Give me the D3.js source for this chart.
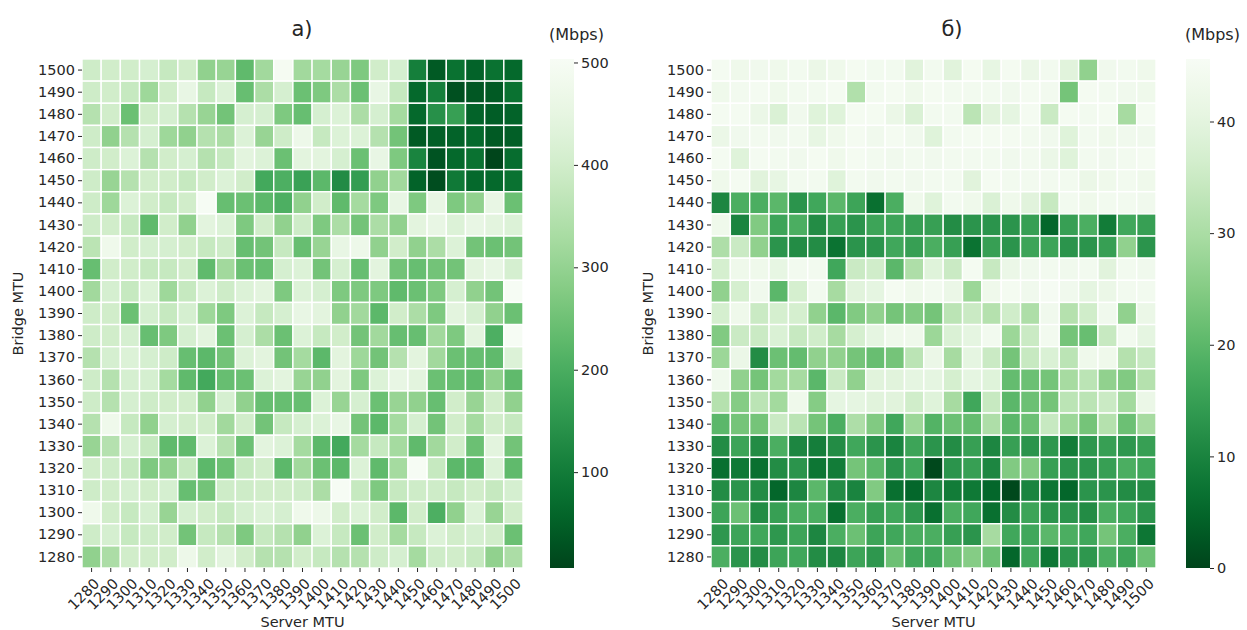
<!DOCTYPE html>
<html>
<head>
<meta charset="utf-8">
<script src="https://cdn.jsdelivr.net/npm/d3@7"></script>
<style>
  body { margin: 0; background: #fff; }
  text { font-family: "DejaVu Sans", sans-serif; fill: #262626; }
</style>
</head>
<body>
<svg id="chart" width="1247" height="630"></svg>
<script>
// server MTU (columns) and bridge MTU (rows, top to bottom)
var serverMtu = [1280,1290,1300,1310,1320,1330,1340,1350,1360,1370,1380,1390,1400,1410,1420,1430,1440,1450,1460,1470,1480,1490,1500];
var bridgeMtu = serverMtu.slice().reverse();

// a) throughput, Mbps, rows 1500 -> 1280
var throughputA = [
  [395,400,400,410,380,400,295,305,230,320,495,320,325,305,270,400,410,105,40,80,55,80,65],
  [395,400,380,315,400,455,380,425,240,335,410,245,270,335,245,455,380,65,105,25,35,40,80],
  [350,400,245,400,410,350,305,255,410,410,270,240,410,425,335,410,325,65,140,170,55,45,55],
  [395,295,350,410,315,295,350,335,425,305,395,470,380,425,425,350,255,40,48,55,65,40,48],
  [395,400,425,350,400,410,350,380,440,425,245,440,440,410,245,455,270,115,30,65,80,8,72],
  [395,305,350,400,400,380,400,425,400,190,205,175,225,130,165,295,320,55,20,95,65,65,80],
  [395,315,425,400,380,400,500,240,245,225,205,295,400,230,325,270,455,270,455,270,295,455,245],
  [395,400,380,230,400,295,440,425,270,400,295,395,270,335,255,335,295,440,455,425,455,440,425],
  [360,475,400,410,410,400,380,395,240,255,380,240,305,455,470,295,400,295,335,425,255,245,255],
  [240,400,400,380,380,400,230,320,245,240,410,425,255,410,240,440,255,240,255,255,440,455,410],
  [320,410,380,425,315,380,425,395,425,440,270,425,410,270,270,270,230,245,270,410,295,255,500],
  [395,400,245,410,380,410,315,270,425,380,410,455,440,295,320,225,400,335,270,440,410,295,245],
  [395,400,410,240,270,410,440,245,410,335,245,425,380,400,255,320,240,240,320,270,440,205,500],
  [350,410,425,410,395,240,225,255,425,440,255,325,225,440,315,255,350,440,320,245,240,230,425],
  [395,350,410,410,325,230,190,240,245,425,440,305,295,440,270,425,455,440,245,240,230,295,230],
  [395,350,410,395,400,400,295,410,295,240,240,240,425,305,410,245,305,295,240,400,305,400,295],
  [350,475,380,295,410,400,400,320,400,255,380,410,425,455,255,225,325,410,255,400,325,400,380],
  [305,350,410,380,230,230,425,350,245,440,425,325,225,190,325,380,325,230,320,400,245,440,255],
  [400,395,380,270,295,380,225,245,380,400,225,320,245,225,425,230,325,500,380,225,225,425,230],
  [395,400,410,400,410,240,255,395,395,400,400,395,335,500,380,270,380,395,395,380,400,380,410],
  [475,400,380,410,305,410,400,380,410,425,410,475,470,400,425,400,225,400,205,295,425,305,400],
  [395,410,380,395,400,255,380,350,270,380,350,295,425,380,245,400,325,380,425,400,410,400,245],
  [295,335,400,400,400,470,400,440,400,350,350,400,380,350,350,395,410,325,395,400,380,295,335]
];

// б) throughput, Mbps, rows 1500 -> 1280
var throughputB = [
  [44.5,43,43.5,43,44,42,43,44.5,44,44,39.5,44,39.5,44.5,41,44.5,42,44,39.5,26.5,43.5,44,43],
  [43,44,44.5,43,44,44,44.5,31,44,44.5,43,44.5,44,44,44,43.5,44.5,44,23,44.5,44,43.5,43],
  [44.5,44.5,42,38,43.5,39,39,44.5,44.5,42,38,44,44,32.5,39.5,40.5,44.5,35,44.5,44,44.5,29.5,44.5],
  [42,43.5,44,43.5,44,41,43,44.5,43.5,44.5,43.5,39,44,44.5,44.5,44.5,44,43.5,39,44,43,43.5,43.5],
  [44.5,39,44.5,44,43.5,44.5,43,44.5,44,43.5,44,43.5,44,44,44,43.5,44,42,39,44,43.5,44,44.5],
  [43,44.5,39.5,41,44,44,39,44,43.5,44,43.5,44,44,39.5,44.5,44,44,44,44,42,43,44,43],
  [10.5,18,18,20,13,16.5,20,16,6.5,18,43,39,44,43,38,43,39.5,34.5,44,43,44,44,43.5],
  [43,10,24.5,16,18,11.5,15,13,16,16,15,15,11.5,13,13,13,15,5,15,18,8.5,16.5,15],
  [30.5,35,26.5,13,11.5,11.5,7,13,13,16.5,15,18,15,7,15,13,16,16,13,13,15,26.5,13],
  [37,43,43,41,44,44,16.5,35,36,20,30.5,39,35,44.5,34.5,42,43.5,44,43.5,44,39.5,44,43.5],
  [26.5,37,43.5,20,37,44,29.5,39.5,40.5,44.5,43,44,42,28,43,44.5,43.5,45,43.5,40.5,42,44,44],
  [37,43,35,37,37,26.5,20,24.5,26.5,23,24.5,23,32.5,35,31.5,36,30.5,43.5,31.5,36,43.5,26.5,42],
  [24.5,35,35,38,34.5,36,29.5,37,40.5,43,43,28,38,40.5,44,28,35,44,23,21.5,34.5,44,40.5],
  [28,42,11.5,22,21,26.5,26.5,23,21.5,23,32.5,42,29.5,40.5,35,23,34.5,38,32.5,43,43,31.5,34.5],
  [43.5,26.5,23,29,29.5,20,35,26.5,39.5,39.5,40.5,40.5,37,40.5,39,21,22,23,29.5,32.5,26.5,24.5,31.5],
  [31.5,25,32.5,29,43,25,40.5,40.5,39.5,39.5,36,39,29.5,16.5,34.5,20,22,23,32.5,32.5,35,29,42],
  [20,23,23,35,32.5,23,18,30.5,24.5,16.5,28,19,22,21,30.5,20,22,34.5,28,23,31.5,22,29.5],
  [11.5,16,11.5,18,10.5,9,11.5,16.5,13,10,16,13,11.5,15,10.5,15,13,13.5,8.5,13.5,15,13.5,15],
  [6.5,8,6.5,11.5,13,7.5,8.5,23,20,13,16.5,0.5,13,15,10.5,24.5,24.5,15,13,13,15,18,16.5],
  [11.5,13,11.5,5,10.5,20,11.5,10,24.5,6.5,5,10.5,8.5,8,5,0.5,10,7.5,5,13,13,11.5,11.5],
  [16,22,11.5,15,18,18,6.5,18,15,16.5,13.5,6.5,18,16.5,6.5,11.5,16,13,13,11.5,18,16.5,13],
  [13.5,16,16.5,13.5,16,10.5,18,22,16,16.5,18,18,15,13,29.5,16.5,16.5,20,18,16.5,23,18,7.5],
  [18,13,11.5,16,16.5,11.5,10.5,16,13.5,22,16.5,16.5,22,25,22,5,16.5,7.5,13,13.5,18,16,22]
];

var colorTicksA = [100,200,300,400,500];
var colorTicksB = [0,10,20,30,40];
var titles = ["a)", "б)"];

var svg = d3.select("#chart");
var gridTop = 59, gridBottom = 568;

var panels = [
  {title: titles[0], data: throughputA, domain: [6.4, 503.4], ticks: colorTicksA, x0: 82, x1: 523, barX: 550, titleX: 302, ylabX: 18},
  {title: titles[1], data: throughputB, domain: [0, 45.6], ticks: colorTicksB, x0: 711, x1: 1156, barX: 1186, titleX: 952, ylabX: 648}
];

panels.forEach(function(p, i) {
  var x = d3.scaleBand().domain(serverMtu).range([p.x0, p.x1]);
  var y = d3.scaleBand().domain(bridgeMtu).range([gridTop, gridBottom]);
  var color = d3.scaleSequential(function(t) { return d3.interpolateGreens(1 - t); }).domain(p.domain);

  var g = svg.append("g");

  // cells
  p.data.forEach(function(row, r) {
    g.selectAll(null)
      .data(row)
      .enter().append("rect")
      .attr("x", function(d, c) { return x(serverMtu[c]); })
      .attr("y", y(bridgeMtu[r]))
      .attr("width", x.bandwidth())
      .attr("height", y.bandwidth())
      .attr("fill", function(d) { return color(d); })
      .attr("stroke", "#fff")
      .attr("stroke-width", 1.4);
  });

  // y axis
  var ya = g.append("g")
    .attr("transform", "translate(" + p.x0 + ",0)")
    .call(d3.axisLeft(y).tickSize(4).tickPadding(3));
  ya.select(".domain").remove();
  ya.selectAll("text").style("font-size", "14.5px").style("font-family", "DejaVu Sans");
  ya.selectAll("line").attr("stroke", "#262626");

  // x axis
  var xa = g.append("g")
    .attr("transform", "translate(0," + gridBottom + ")")
    .call(d3.axisBottom(x).tickSize(4));
  xa.select(".domain").remove();
  xa.selectAll("line").attr("stroke", "#262626");
  xa.selectAll("text")
    .style("font-size", "14.5px").style("font-family", "DejaVu Sans")
    .attr("x", 0).attr("y", 0).attr("dy", "0.35em")
    .attr("text-anchor", "end")
    .attr("transform", "translate(5,13) rotate(-45)");

  // axis titles
  g.append("text")
    .attr("x", (p.x0 + p.x1) / 2).attr("y", 627)
    .attr("text-anchor", "middle").style("font-size", "14.5px")
    .text("Server MTU");
  g.append("text")
    .attr("transform", "translate(" + p.ylabX + "," + (gridTop + gridBottom) / 2 + ") rotate(-90)")
    .attr("text-anchor", "middle").attr("dy", "0.35em").style("font-size", "14.5px")
    .text("Bridge MTU");

  // title
  g.append("text")
    .attr("x", p.titleX).attr("y", 36)
    .attr("text-anchor", "middle").style("font-size", "21px")
    .text(p.title);

  // colorbar
  var gradId = "grad" + i;
  var grad = svg.append("defs").append("linearGradient")
    .attr("id", gradId).attr("x1", 0).attr("y1", 1).attr("x2", 0).attr("y2", 0);
  d3.range(0, 1.0001, 0.05).forEach(function(t) {
    grad.append("stop").attr("offset", t)
      .attr("stop-color", color(p.domain[0] + t * (p.domain[1] - p.domain[0])));
  });
  var barW = 24;
  g.append("rect")
    .attr("x", p.barX).attr("y", gridTop)
    .attr("width", barW).attr("height", gridBottom - gridTop)
    .attr("fill", "url(#" + gradId + ")");
  var cs = d3.scaleLinear().domain(p.domain).range([gridBottom, gridTop]);
  var ca = g.append("g")
    .attr("transform", "translate(" + (p.barX + barW) + ",0)")
    .call(d3.axisRight(cs).tickValues(p.ticks).tickSize(4).tickPadding(3));
  ca.select(".domain").remove();
  ca.selectAll("line").attr("stroke", "#262626");
  ca.selectAll("text").style("font-size", "14.5px").style("font-family", "DejaVu Sans");

  g.append("text")
    .attr("x", p.barX - 1).attr("y", 40)
    .style("font-size", "16px")
    .text("(Mbps)");
});
</script>
</body>
</html>
